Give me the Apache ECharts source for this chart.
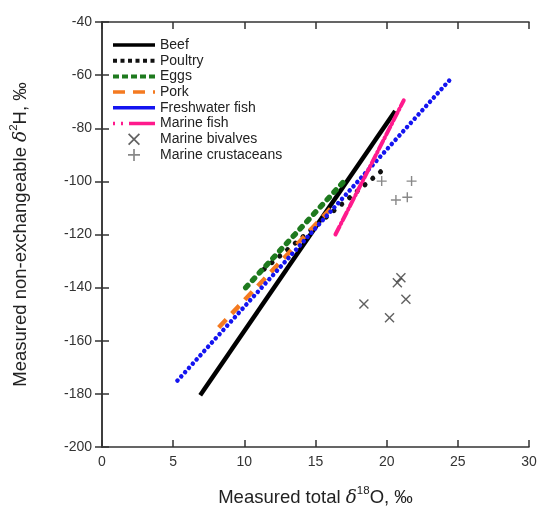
<!DOCTYPE html>
<html><head><meta charset="utf-8">
<script src="https://cdn.jsdelivr.net/npm/echarts@6/dist/echarts.min.js"></script>
<style>html,body{margin:0;padding:0;background:#fff}#c{width:538px;height:511px}</style>
</head><body><div id="c"></div>
<script>
// Regression lines: [x (δ18O), y (δ2H)] endpoints
const beef       = [[6.9, -180.5], [20.6, -73.5]];
const poultry    = [[11.4, -133], [20.1, -94]];
const eggs       = [[10.1, -140], [17.0, -100]];
const pork       = [[8.2, -155], [16.2, -109.5]];
const freshwater = [[5.3, -175], [24.4, -62]];
const marineFish = [[16.4, -120], [21.2, -69.5]];
// Individual samples
const bivalves    = [[18.4, -146.2], [20.2, -151.3], [20.75, -138.2], [21.0, -136.3], [21.35, -144.4]];
const crustaceans = [[19.65, -99.9], [21.75, -99.9], [20.65, -107.0], [21.45, -106.0]];
// Axis ticks
const xTicks = {min: 0, max: 30, interval: 5};
const yTicks = {min: -200, max: -40, interval: 20};

const FONT = 'Liberation Sans, Arial, sans-serif';
const X_SYM = 'path://M0,1L1,0L5,4L9,0L10,1L6,5L10,9L9,10L5,6L1,10L0,9L4,5Z';
const P_SYM = 'path://M4.3,0H5.7V4.3H10V5.7H5.7V10H4.3V5.7H0V4.3H4.3Z';

const chart = echarts.init(document.getElementById('c'), null, {renderer: 'canvas'});

function lineSeries(name, data, color, width, type, cap) {
  return {
    name, type: 'line', data, symbol: 'none', silent: true,
    lineStyle: {color, width, type, cap: cap || 'butt'},
    itemStyle: {color}
  };
}
const axisLine = {show: true, lineStyle: {color: '#333', width: 1.5}};
const tick = {show: true, inside: true, length: 7, lineStyle: {color: '#333', width: 1.5}};
const hideSym = {opacity: 0};
const nameRich = {
  a: {fontSize: 18.5, color: '#222', fontFamily: FONT, lineHeight: 26},
  i: {fontSize: 18.5, color: '#222', fontStyle: 'italic', fontFamily: 'DejaVu Serif, serif', lineHeight: 26},
  s: {fontSize: 11.5, color: '#222', fontFamily: FONT, verticalAlign: 'top', lineHeight: 12}
};

chart.setOption({
  animation: false,
  textStyle: {fontFamily: FONT},
  grid: {left: 102, right: 9, top: 22, bottom: 64, containLabel: false, outerBoundsMode: 'none'},
  legend: {
    left: 111, top: 38, orient: 'vertical', padding: 0,
    itemWidth: 42, itemHeight: 12, itemGap: 1.7, itemTextGap: 5,
    textStyle: {fontSize: 14, color: '#222', fontFamily: FONT},
    data: [
      {name: 'Beef', itemStyle: hideSym, lineStyle: {width: 3.5}},
      {name: 'Poultry', itemStyle: hideSym, lineStyle: {width: 4, type: [4, 3.5], cap: 'butt'}},
      {name: 'Eggs', itemStyle: hideSym, lineStyle: {width: 4, type: [6, 3], cap: 'butt'}},
      {name: 'Pork', itemStyle: hideSym, lineStyle: {width: 3.5, type: [12, 8], cap: 'butt'}},
      {name: 'Freshwater fish', itemStyle: hideSym, lineStyle: {type: 'solid', cap: 'butt', width: 3.5}},
      {name: 'Marine fish', itemStyle: hideSym, lineStyle: {width: 3.5, type: [2, 6, 2, 6, 30], cap: 'butt'}},
      {name: 'Marine bivalves'}, {name: 'Marine crustaceans'}
    ]
  },
  xAxis: [{
    type: 'value', min: xTicks.min, max: xTicks.max, interval: xTicks.interval,
    axisLine, axisTick: tick, splitLine: {show: false},
    axisLabel: {fontSize: 14, color: '#333', margin: 8},
    name: '{a|Measured total }{i|δ}{s|18}{a|O, ‰}', nameLocation: 'middle', nameGap: 38,
    nameTextStyle: {rich: nameRich}
  }, {
    type: 'value', position: 'top', min: xTicks.min, max: xTicks.max, interval: xTicks.interval,
    axisLine, axisTick: tick, axisLabel: {show: false}, splitLine: {show: false}
  }],
  yAxis: [{
    type: 'value', min: yTicks.min, max: yTicks.max, interval: yTicks.interval,
    axisLine, axisTick: tick, splitLine: {show: false},
    axisLabel: {fontSize: 14, color: '#333', margin: 10},
    name: '{a|Measured non-exchangeable }{i|δ}{s|2}{a|H, ‰}', nameLocation: 'middle', nameGap: 68,
    nameTextStyle: {rich: nameRich}
  }, {
    type: 'value', position: 'right', min: yTicks.min, max: yTicks.max, interval: yTicks.interval,
    axisLine, axisTick: tick, axisLabel: {show: false}, splitLine: {show: false}
  }],
  series: [
    lineSeries('Beef', beef, '#000', 4.5, 'solid'),
    lineSeries('Poultry', poultry, '#111', 5, [0.1, 10], 'round'),
    lineSeries('Eggs', eggs, '#1e7a1e', 5.5, [3, 7], 'round'),
    lineSeries('Pork', pork, '#f47a20', 4.5, [11, 8]),
    lineSeries('Freshwater fish', freshwater, '#1414f0', 4.5, [0.1, 5.6], 'round'),
    lineSeries('Marine fish', marineFish, '#ff1a8c', 4, [9, 3, 1, 3], 'round'),
    {name: 'Marine bivalves', type: 'scatter', data: bivalves, symbol: X_SYM, symbolSize: 10,
     symbolKeepAspect: true, itemStyle: {color: '#3a3a3a'}},
    {name: 'Marine crustaceans', type: 'scatter', data: crustaceans, symbol: P_SYM, symbolSize: 10,
     symbolKeepAspect: true, itemStyle: {color: '#6a6a6a'}}
  ]
});
</script></body></html>
